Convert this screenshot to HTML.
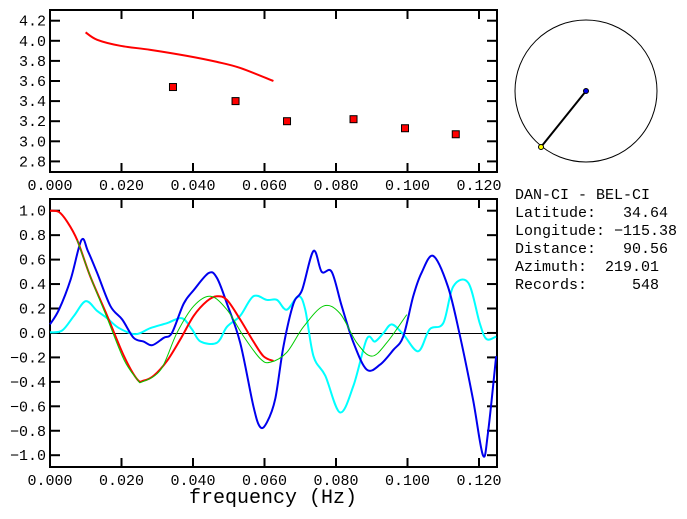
<!DOCTYPE html>
<html><head><meta charset="utf-8"><style>
body{margin:0;background:#fff;width:687px;height:519px;overflow:hidden}
svg{display:block;font-family:"Liberation Mono",monospace}
text{white-space:pre}
</style></head><body>
<svg id="c" width="687" height="519"></svg>
<script>
const topCurveF=[0.00995,0.0132,0.0197,0.0281,0.0383,0.0467,0.0532,0.0625];
const topCurveV=[4.084,4.01,3.95,3.91,3.85,3.79,3.73,3.60];
const topPtsF=[0.0344,0.0519,0.0663,0.0849,0.0993,0.1135];
const topPtsV=[3.54,3.40,3.20,3.22,3.13,3.07];
const topYTicks=["2.8","3.0","3.2","3.4","3.6","3.8","4.0","4.2"];
const xTicks=["0.000","0.020","0.040","0.060","0.080","0.100","0.120"];
const botYTicks=["-1.0","-0.8","-0.6","-0.4","-0.2","0.0","0.2","0.4","0.6","0.8","1.0"];
const blueF=[0,0.0025,0.0058,0.0088,0.0106,0.0132,0.0169,0.0202,0.0234,0.0262,0.0286,0.0318,0.0341,0.0374,0.0402,0.0444,0.0467,0.0495,0.0532,0.0569,0.0588,0.0607,0.0630,0.0653,0.0681,0.0705,0.0737,0.0760,0.0788,0.0816,0.0849,0.0886,0.0923,0.0960,0.0988,0.1016,0.1039,0.1072,0.1113,0.1145,0.1183,0.1211,0.1225,0.1248];
const blueV=[0.07,0.19,0.44,0.76,0.67,0.49,0.22,0.11,-0.04,-0.07,-0.10,-0.04,0,0.24,0.35,0.49,0.45,0.24,-0.08,-0.60,-0.77,-0.73,-0.54,-0.11,0.24,0.35,0.67,0.50,0.50,0.22,-0.08,-0.30,-0.26,-0.14,-0.03,0.30,0.49,0.63,0.38,0,-0.54,-1.0,-0.82,-0.19];
const cyanF=[0,0.0034,0.0067,0.0100,0.0132,0.016,0.0193,0.0239,0.0281,0.0327,0.0369,0.0397,0.0421,0.0467,0.0495,0.0532,0.0569,0.0607,0.0635,0.0662,0.0695,0.0714,0.0737,0.0770,0.0811,0.0849,0.0886,0.0909,0.0933,0.0956,0.0988,0.1030,0.1062,0.1100,0.1128,0.1170,0.1202,0.1221,0.1248];
const cyanV=[0.005,0.02,0.14,0.26,0.18,0.12,0.04,-0.01,0.04,0.08,0.12,0.03,-0.07,-0.08,0.05,0.14,0.30,0.27,0.27,0.19,0.30,0.19,-0.19,-0.35,-0.65,-0.43,-0.05,-0.07,0,0.07,-0.01,-0.15,0.03,0.08,0.38,0.41,0.08,-0.05,-0.03];
const redF=[0,0.0025,0.0048,0.0076,0.0113,0.016,0.0207,0.0244,0.0262,0.029,0.0327,0.0365,0.0402,0.0439,0.0467,0.0495,0.0532,0.0569,0.0597,0.0625];
const redV=[1.0,0.99,0.91,0.76,0.46,0.14,-0.19,-0.38,-0.39,-0.35,-0.23,-0.05,0.14,0.26,0.30,0.27,0.11,-0.07,-0.19,-0.23];
const greenF=[0.0076,0.0113,0.016,0.0207,0.0244,0.0258,0.031,0.0355,0.0402,0.0449,0.0495,0.0542,0.0588,0.0616,0.0662,0.0709,0.0765,0.0811,0.0858,0.0900,0.0942,0.0998];
const greenV=[0.76,0.46,0.12,-0.22,-0.38,-0.40,-0.30,0,0.22,0.30,0.19,-0.03,-0.21,-0.24,-0.16,0.05,0.22,0.16,-0.08,-0.19,-0.08,0.15];
const infoLabels=["DAN-CI - BEL-CI","Latitude:   34.64","Longitude: -115.38","Distance:   90.56","Azimuth:  219.01","Records:     548"];

const NS="http://www.w3.org/2000/svg",svg=document.getElementById('c');
function el(t,a,p){const e=document.createElementNS(NS,t);for(const k in a)e.setAttribute(k,a[k]);(p||svg).appendChild(e);return e;}
const X=f=>50+f/0.02*71.5;
const YT=v=>20.7+(4.2-v)/0.2*20.1;
const YB=v=>210.7+(1.0-v)/0.2*24.45;
function smooth(F,V,Y){let p=F.map((f,i)=>[X(f),Y(V[i])]);let d="M"+p[0][0]+","+p[0][1];
 for(let i=0;i<p.length-1;i++){const p0=p[i-1]||p[i],p1=p[i],p2=p[i+1],p3=p[i+2]||p2;
 d+=` C${p1[0]+(p2[0]-p0[0])/6},${p1[1]+(p2[1]-p0[1])/6} ${p2[0]-(p3[0]-p1[0])/6},${p2[1]-(p3[1]-p1[1])/6} ${p2[0]},${p2[1]}`;}return d;}
function frame(y0,y1,yt,Y,name){
 let r=el('rect',{x:50,y:y0,width:447,height:y1-y0,fill:'none',stroke:'#000','stroke-width':2});
 
 xTicks.forEach(t=>{const x=X(parseFloat(t));el('line',{x1:x,x2:x,y1:y0,y2:y0+9,stroke:'#000','stroke-width':2});el('line',{x1:x,x2:x,y1:y1,y2:y1-9,stroke:'#000','stroke-width':2});
  const tx=el('text',{x:x,y:y1+18,'font-size':15,'text-anchor':'middle'});tx.textContent=t;
  });
 yt.forEach(t=>{const y=Y(parseFloat(t));el('line',{x1:50,x2:60,y1:y,y2:y,stroke:'#000','stroke-width':2});el('line',{x1:497,x2:487,y1:y,y2:y,stroke:'#000','stroke-width':2});
  const tx=el('text',{x:46,y:y+5,'font-size':15,'text-anchor':'end'});tx.textContent=t.replace('-','\u2212');
  });
}
frame(10,172,topYTicks,YT,'velocity');
frame(199,467,botYTicks,YB,'coherence');
let p=el('path',{d:smooth(topCurveF,topCurveV,YT),fill:'none',stroke:'#f00','stroke-width':2});

topPtsF.forEach((f,i)=>{const x=X(f),y=YT(topPtsV[i]);
 const r=el('rect',{x:x-3.5,y:y-3.5,width:7,height:7,fill:'#f00',stroke:'#000','stroke-width':1});
 });
const zy=Math.round(YB(0))+0.5;
let z=el('line',{x1:50,x2:497,y1:zy,y2:zy,stroke:'#000','stroke-width':1,'shape-rendering':'crispEdges'});

[[cyanF,cyanV,'#0ff',2,'imaginary-coherence'],[blueF,blueV,'#00e',2,'real-coherence'],[redF,redV,'#f00',2,'fit-curve'],[greenF,greenV,'#0c0',1,'model-curve']].forEach(s=>{
 const q=el('path',{d:smooth(s[0],s[1],YB),fill:'none',stroke:s[2],'stroke-width':s[3]});
 });
let xl=el('text',{x:273,y:503,'font-size':20,'text-anchor':'middle'});xl.textContent='frequency (Hz)';

let c=el('circle',{cx:586,cy:91,r:71,fill:'none',stroke:'#000','stroke-width':1});

el('line',{x1:586,y1:91,x2:541,y2:147,stroke:'#000','stroke-width':2});
let d1=el('circle',{cx:586,cy:91,r:2.5,fill:'#00e',stroke:'#000'});
let d2=el('circle',{cx:541,cy:147,r:2.5,fill:'#ff0',stroke:'#000'});
infoLabels.forEach((t,i)=>{const tx=el('text',{x:515,y:199+i*18,'font-size':15});tx.textContent=t.replace('-1','\u22121');
 });
</script>
</body></html>
